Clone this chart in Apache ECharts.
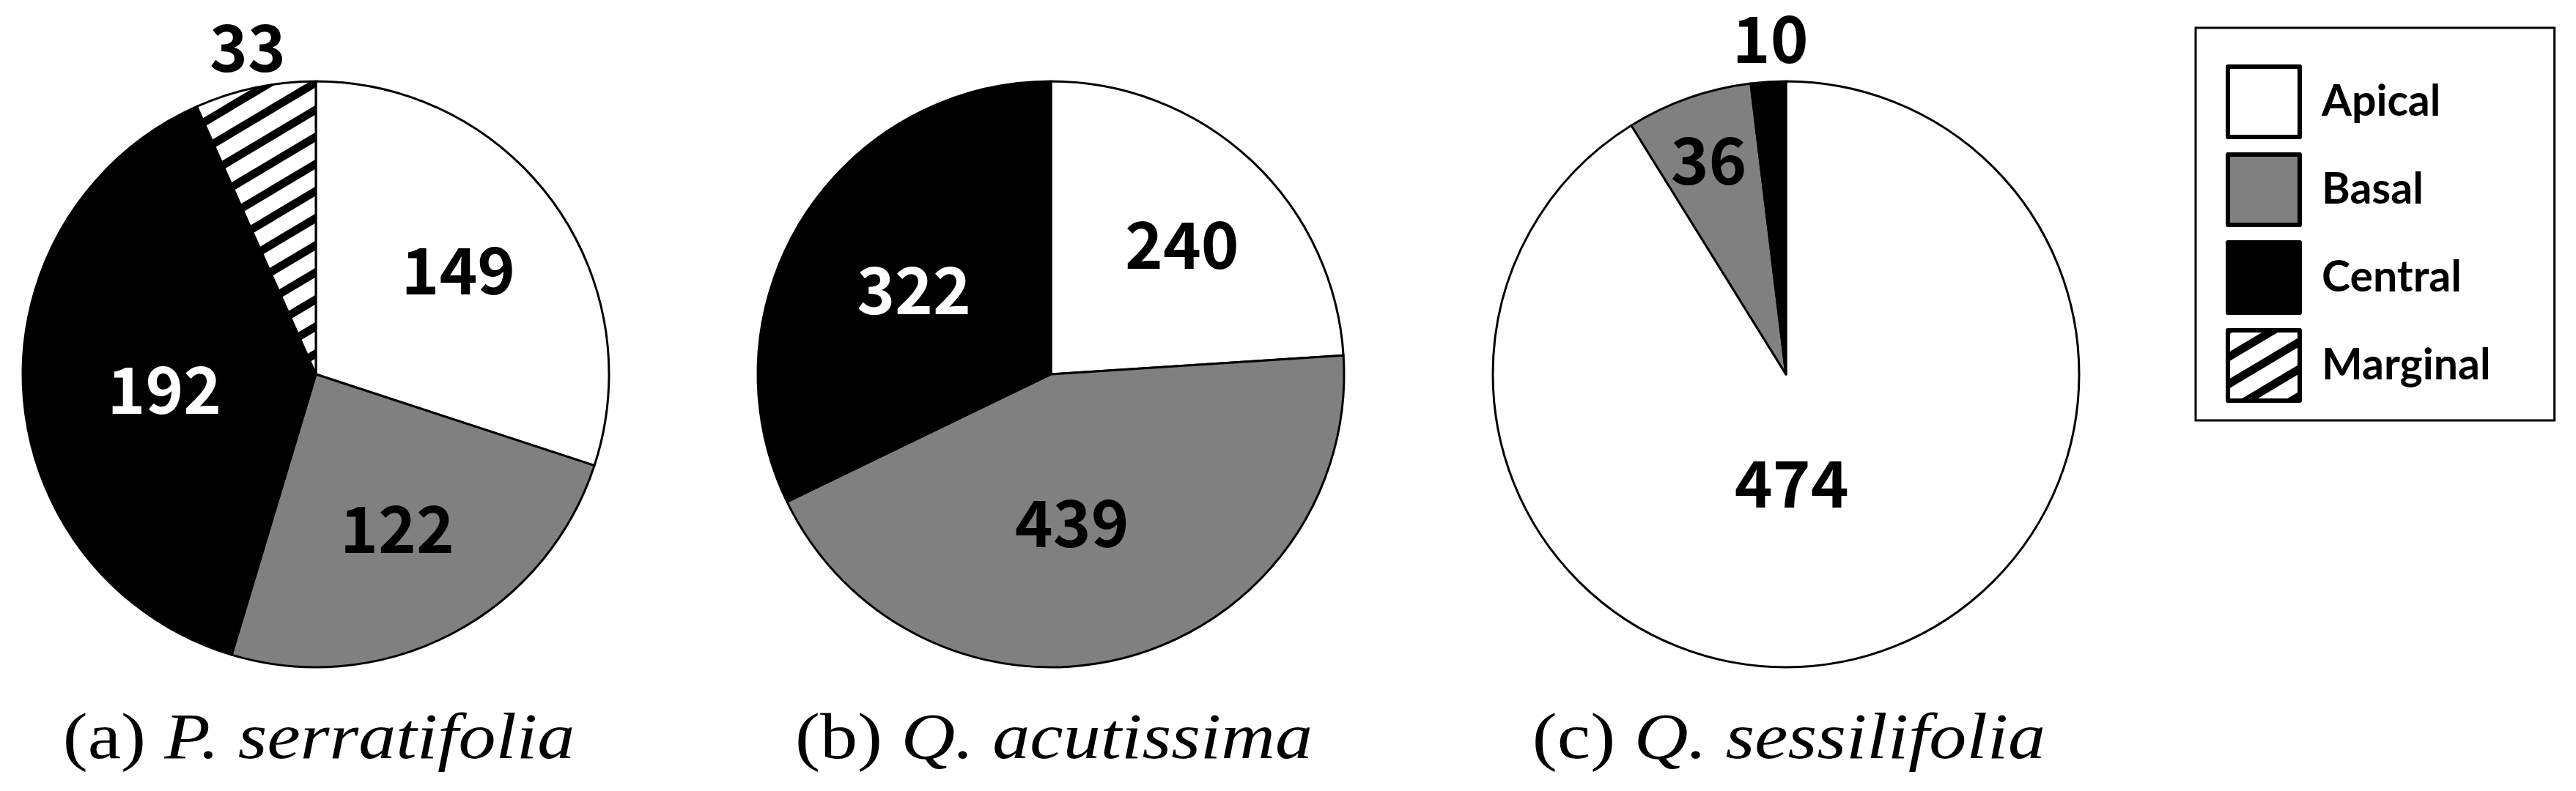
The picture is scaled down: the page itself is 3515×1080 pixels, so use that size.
<!DOCTYPE html>
<html><head><meta charset="utf-8">
<script src="https://cdn.jsdelivr.net/npm/echarts@6/dist/echarts.min.js"></script>
<style>html,body{margin:0;padding:0;background:#fff}#c{width:3515px;height:1080px}</style>
</head><body><div id="c"></div>
<script>
// ---- data ----
const categories = ['Apical', 'Basal', 'Central', 'Marginal'];
const serratifolia = [149, 122, 192, 33];   // Apical, Basal, Central, Marginal
const acutissima = [240, 439, 322];         // Apical, Basal, Central
const sessilifolia = [474, 36, 10];         // Apical, Basal, Central
const captionTags = ['(a) ', '(b) ', '(c) '];
const captionNames = ['P. serratifolia', 'Q. acutissima', 'Q. sessilifolia'];

// ---- layout / style ----
const centersX = [431, 1434, 2437];
const centerY = 511;
const R = 400;
const labelOffsets = [
  [[30, -23], [17, 31], [-4, 8], [-51, -248]],
  [[40, -29], [-23, 6], [-15, -8]],
  [[-48, -47], [-38, -101], [-9, -256]]
];

function hatch() {
  const W = 62, H = 37;
  const c = document.createElement('canvas');
  c.width = W; c.height = H;
  const g = c.getContext('2d');
  g.fillStyle = '#fff'; g.fillRect(0, 0, W, H);
  g.strokeStyle = '#000'; g.lineWidth = 11;
  for (let m = -1; m <= 3; m++) {
    g.beginPath();
    g.moveTo(-W, H + m * H);
    g.lineTo(2 * W, -2 * H + m * H);
    g.stroke();
  }
  return c;
}
const fills = ['#ffffff', '#808080', '#000000', { image: hatch(), repeat: 'repeat' }];
const labelColors = ['#000', '#000', '#fff', '#000'];

function pieSeries(values, idx) {
  return {
    type: 'pie',
    center: [centersX[idx], centerY],
    radius: [0, R],
    startAngle: 90,
    clockwise: true,
    avoidLabelOverlap: false,
    animation: false,
    silent: true,
    labelLine: { show: false },
    itemStyle: { borderColor: '#000', borderWidth: 3 },
    data: values.map((v, i) => ({
      name: categories[i],
      value: v,
      itemStyle: { color: fills[i] },
      label: {
        show: true,
        position: 'inside',
        formatter: '{c}',
        offset: labelOffsets[idx][i],
        color: (idx === 2 && i === 2) ? '#000' : labelColors[i],
        fontFamily: 'Noto Sans CJK JP',
        fontWeight: 'bold',
        fontSize: 88
      }
    }))
  };
}

const chart = echarts.init(document.getElementById('c'), null, { renderer: 'canvas' });
chart.setOption({
  backgroundColor: '#ffffff',
  animation: false,
  legend: {
    data: categories,
    orient: 'vertical',
    left: 2996,
    top: 38,
    padding: [50, 87, 24, 41],
    borderColor: '#000',
    borderWidth: 3,
    itemGap: 18,
    itemWidth: 98,
    itemHeight: 96,
    icon: 'rect',
    selectedMode: false,
    itemStyle: { borderColor: '#000', borderWidth: 6 },
    textStyle: {
      fontFamily: 'Lato',
      fontWeight: 'bold',
      fontSize: 59,
      color: '#000',
      padding: [0, 0, 0, 25]
    }
  },
  series: [
    pieSeries(serratifolia, 0),
    pieSeries(acutissima, 1),
    pieSeries(sessilifolia, 2)
  ],
  graphic: captionNames.map((n, i) => ({
    type: 'text',
    x: centersX[i] + 4,
    y: 1012,
    scaleX: 1.16,
    silent: true,
    style: {
      text: '{t|' + captionTags[i] + '}{n|' + n + '}',
      align: 'center',
      verticalAlign: 'middle',
      rich: {
        t: { fontFamily: 'Liberation Serif', fontSize: 88, fill: '#000' },
        n: { fontFamily: 'Liberation Serif', fontSize: 88, fontStyle: 'italic', fill: '#000' }
      }
    }
  }))
});
</script></body></html>
